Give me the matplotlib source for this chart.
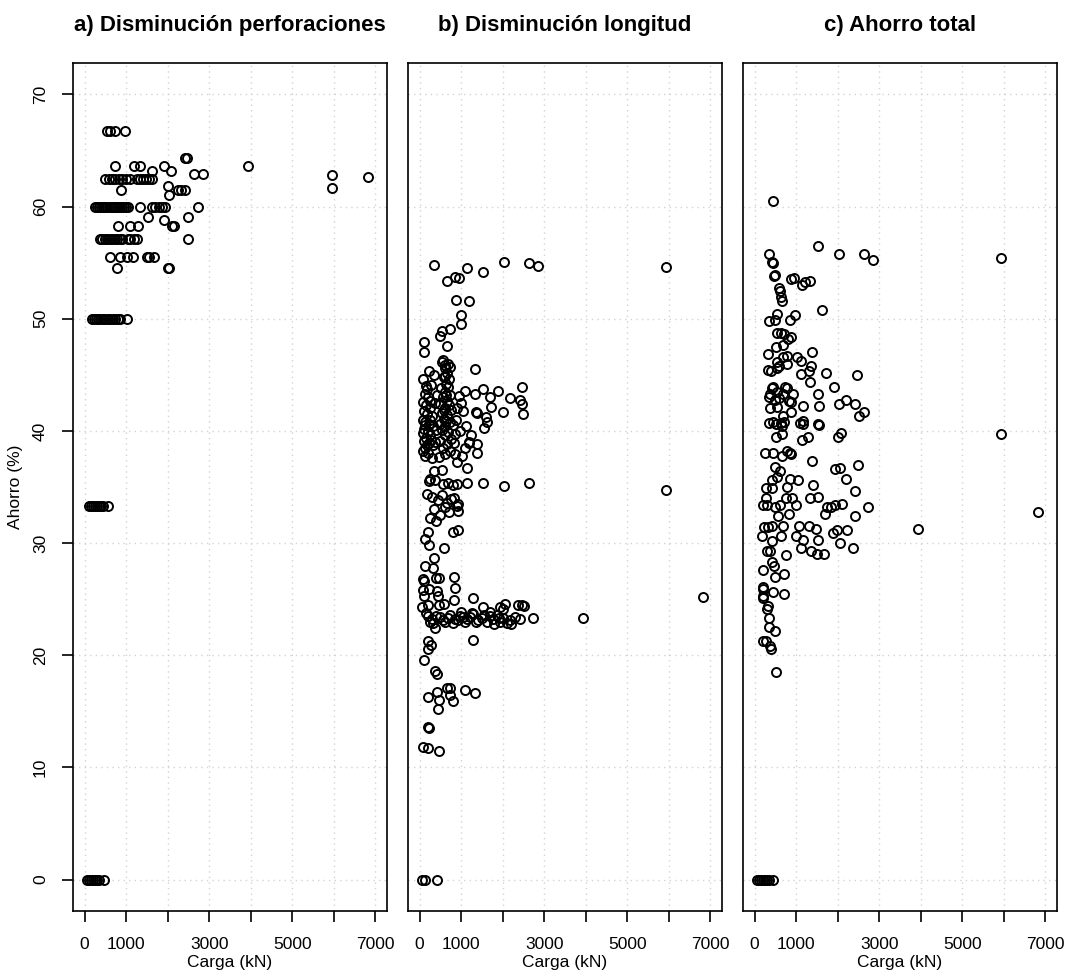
import matplotlib
matplotlib.use('Agg')
import matplotlib.pyplot as plt

plt.rcParams['font.family'] = ['Liberation Sans', 'DejaVu Sans']

# Panel titles and axis text
titulos = ['a) Disminución perforaciones', 'b) Disminución longitud', 'c) Ahorro total']
etiqueta_x = 'Carga (kN)'
etiqueta_y = 'Ahorro (%)'
ticks_x = [0, 1000, 2000, 3000, 4000, 5000, 6000, 7000]
etiquetas_ticks_x = ['0', '1000', '', '3000', '', '5000', '', '7000']
ticks_y = [0, 10, 20, 30, 40, 50, 60, 70]

# a) reduction in number of boreholes: (load kN, saving %)
puntos_a = [
    (50, 0), (100, 0), (150, 0), (200, 0), (250, 0), (300, 0), (350, 0), (470, 0),
    (100, 33.3), (150, 33.3), (200, 33.3), (250, 33.3), (300, 33.3), (350, 33.3), (400, 33.3), (450, 33.3), (560, 33.3),
    (170, 50), (220, 50), (280, 50), (330, 50), (380, 50), (440, 50), (500, 50), (560, 50), (620, 50),
    (680, 50), (740, 50), (800, 50), (860, 50), (1030, 50),
    (790, 54.5), (2000, 54.5), (2030, 54.5),
    (612, 55.5), (853, 55.5), (1013, 55.5), (1173, 55.5), (1500, 55.5), (1560, 55.5), (1680, 55.5),
    (370, 57.1), (420, 57.1), (480, 57.1), (540, 57.1), (600, 57.1), (660, 57.1), (720, 57.1), (780, 57.1),
    (840, 57.1), (900, 57.1), (1050, 57.1), (1100, 57.1), (1180, 57.1), (1250, 57.1), (2500, 57.1),
    (812, 58.3), (1094, 58.3), (1294, 58.3), (2096, 58.3), (2150, 58.3), (1920, 58.8),
    (1535, 59.1), (2498, 59.1),
    (250, 60), (300, 60), (350, 60), (400, 60), (450, 60), (500, 60), (550, 60), (600, 60), (650, 60),
    (700, 60), (750, 60), (800, 60), (850, 60), (900, 60), (950, 60), (1000, 60), (1050, 60), (1330, 60),
    (1620, 60), (1700, 60), (1780, 60), (1860, 60), (1930, 60), (2720, 60),
    (2040, 61.0), (877, 61.5), (2250, 61.5), (2330, 61.5), (2418, 61.5), (2016, 61.8), (5950, 61.7),
    (500, 62.5), (580, 62.5), (660, 62.5), (740, 62.5), (820, 62.5), (900, 62.5), (1000, 62.5), (1100, 62.5),
    (1260, 62.5), (1330, 62.5), (1400, 62.5), (1470, 62.5), (1540, 62.5), (1610, 62.5), (6830, 62.6),
    (2634, 62.9), (2858, 62.9), (5950, 62.8), (1615, 63.2), (2073, 63.2),
    (730, 63.6), (1190, 63.6), (1334, 63.6), (1912, 63.6), (3930, 63.6),
    (2420, 64.3), (2460, 64.3),
    (530, 66.7), (600, 66.7), (730, 66.7), (970, 66.7),
]

# b) reduction in borehole length
puntos_b = [
    (50, 0), (130, 0), (410, 0),
    (90, 11.8), (210, 11.7), (474, 11.5), (210, 13.6), (230, 13.5),
    (450, 15.2), (796, 15.9), (474, 16.0), (210, 16.3), (732, 16.5), (411, 16.7), (1334, 16.65),
    (1093, 16.9), (652, 17.1), (732, 17.1), (371, 18.6), (426, 18.35), (106, 19.6),
    (210, 20.6), (267, 20.9), (210, 21.3), (1293, 21.4), (371, 22.4),
    (210, 23.5), (291, 23.2), (331, 22.9), (491, 23.4), (612, 23.0), (732, 23.6), (852, 23.2), (973, 23.5),
    (1093, 23.0), (1213, 23.4), (1294, 23.7), (1414, 23.1), (1494, 23.3), (1615, 23.0), (1695, 23.5),
    (1775, 23.2), (1856, 23.6), (1936, 23.0), (2016, 23.3), (2096, 22.9), (2177, 23.1), (2297, 23.4),
    (2418, 23.2), (1000, 23.9), (1250, 23.8), (1700, 23.9), (2000, 24.1), (150, 23.8), (400, 23.5),
    (560, 23.1), (1800, 22.8), (2200, 22.8), (1150, 23.2), (1350, 23.0), (1550, 23.6), (1900, 23.3),
    (2723, 23.3), (3927, 23.3), (260, 23.0), (680, 23.3), (800, 22.9), (930, 23.1), (1050, 23.4),
    (50, 24.3), (210, 24.5), (474, 24.5), (587, 24.6), (1534, 24.3), (1936, 24.3), (2056, 24.6),
    (2377, 24.5), (2457, 24.5), (2514, 24.4), (836, 24.9), (1278, 25.1), (6831, 25.2),
    (106, 25.3), (440, 25.3), (74, 25.8), (234, 25.9), (426, 25.7), (852, 26.0),
    (90, 26.8), (106, 26.6), (395, 26.9), (474, 26.9), (836, 27.0),
    (130, 28.0), (322, 27.8), (347, 28.7), (595, 29.6), (226, 29.8), (130, 30.4), (210, 31.0),
    (812, 31.0), (932, 31.2), (250, 32.2), (400, 32.0),
    (180, 34.4), (300, 34.1), (450, 33.8), (550, 34.3), (650, 33.6), (750, 33.9), (600, 33.2), (700, 32.8),
    (500, 32.5), (350, 33.0), (820, 34.0), (900, 33.3), (932, 33.5), (932, 32.9),
    (226, 35.5), (371, 35.6), (563, 35.3), (684, 35.4), (804, 35.2), (900, 35.3), (1141, 35.4),
    (1526, 35.4), (2032, 35.1), (2634, 35.4), (5925, 34.7), (250, 35.7),
    (532, 36.5), (347, 36.4), (908, 37.2), (1134, 36.7), (130, 37.8),
    (90, 44.6), (150, 44.0), (120, 43.3), (200, 43.0), (90, 42.6), (160, 42.3), (250, 42.0), (100, 41.8),
    (180, 41.5), (300, 41.3), (90, 41.0), (140, 40.8), (220, 40.6), (330, 40.4), (110, 40.2), (190, 40.0),
    (80, 39.8), (260, 39.6), (150, 39.4), (100, 39.1), (220, 38.9), (320, 38.7), (130, 38.5), (90, 38.2),
    (200, 38.0), (300, 37.6), (260, 41.0), (360, 42.5), (380, 39.0), (400, 40.1), (420, 43.2),
    (280, 44.1), (350, 45.0), (170, 43.7), (240, 42.7), (120, 40.5), (280, 39.2), (170, 38.7),
    (560, 46.3), (600, 45.6), (650, 45.2), (580, 44.8), (700, 44.6), (630, 44.2), (520, 43.8), (680, 43.9),
    (600, 43.5), (740, 43.2), (560, 43.0), (650, 42.7), (500, 42.4), (700, 42.3), (600, 42.0), (760, 41.9),
    (540, 41.6), (660, 41.4), (580, 41.1), (720, 40.8), (480, 40.6), (620, 40.4), (540, 40.1), (690, 39.9),
    (600, 39.6), (760, 39.3), (500, 39.1), (650, 38.8), (560, 38.5), (720, 38.2), (620, 37.9), (460, 37.7),
    (800, 40.5), (820, 38.9), (850, 39.7), (880, 41.0), (860, 37.9), (610, 44.9), (640, 43.2), (590, 41.9),
    (630, 40.9),
    (1093, 43.6), (950, 43.1), (1000, 42.5), (1050, 41.8), (900, 42.0), (1120, 40.4), (960, 40.0),
    (1180, 39.0), (1100, 38.5), (1020, 37.8),
    (1534, 43.7), (1895, 43.6), (2473, 43.9), (2177, 42.9), (2418, 42.8), (2458, 42.4), (2497, 41.5),
    (2000, 41.7), (1695, 43.0), (1712, 42.1), (1358, 41.7), (1380, 41.6), (1334, 43.3), (1599, 41.2),
    (1630, 40.8), (1551, 40.3), (1375, 38.8), (1375, 38.0), (1237, 39.6), (1180, 38.9),
    (540, 46.1), (620, 45.9), (690, 46.0), (732, 45.7), (226, 45.3), (1334, 45.5),
    (106, 47.9), (106, 47.0), (652, 47.6), (491, 48.5), (532, 48.9), (732, 49.1), (997, 49.5), (997, 50.3),
    (876, 51.7), (1197, 51.6),
    (347, 54.8), (652, 53.4), (852, 53.7), (956, 53.6), (1149, 54.5), (1519, 54.2), (2032, 55.1),
    (2642, 55.0), (2859, 54.7), (5925, 54.6),
]

# c) total saving
puntos_c = [
    (50, 0), (100, 0), (150, 0), (200, 0), (250, 0), (300, 0), (350, 0), (450, 0),
    (508, 18.5), (371, 20.8), (395, 20.6), (210, 21.3), (267, 21.3), (355, 22.5), (491, 22.2), (355, 23.3),
    (315, 24.4), (291, 24.1), (210, 25.3), (210, 25.1), (451, 25.6), (716, 25.5), (194, 26.1), (194, 25.9),
    (491, 27.0), (716, 27.2), (210, 27.6), (427, 28.3), (475, 28.0),
    (290, 29.3), (371, 29.3), (756, 28.9), (1109, 29.6), (1351, 29.3), (1511, 29.0), (1671, 29.0),
    (178, 30.6), (411, 30.2), (636, 30.6), (997, 30.6), (1173, 30.3), (1519, 30.3), (2056, 30.0), (2362, 29.6),
    (234, 31.4), (315, 31.4), (411, 31.5), (692, 31.5), (1070, 31.5), (1304, 31.5), (1488, 31.3),
    (1887, 30.9), (1984, 31.2), (2225, 31.2), (3927, 31.3),
    (210, 33.4), (290, 33.4), (491, 33.2), (612, 33.4), (997, 33.4), (1695, 32.6), (1751, 33.2),
    (1831, 33.2), (1936, 33.4), (2113, 33.5), (2723, 33.2), (2417, 32.4), (836, 32.6), (571, 32.4),
    (6831, 32.8),
    (275, 34.0), (756, 34.0), (893, 34.0), (1334, 34.0), (1535, 34.1),
    (275, 34.9), (411, 34.9), (780, 35.0), (1414, 35.2), (2417, 34.6),
    (531, 35.9), (411, 35.6), (852, 35.7), (1040, 35.6), (2210, 35.7),
    (491, 36.8), (612, 36.4), (1375, 37.3), (1936, 36.6), (2056, 36.7), (2498, 37.0),
    (250, 38.0), (435, 38.0), (652, 37.8), (773, 38.2), (852, 38.0), (870, 37.9),
    (5933, 39.7), (2016, 39.5), (2073, 39.8), (515, 39.5), (652, 39.7), (1149, 39.2), (1290, 39.5),
    (339, 40.7), (435, 40.8), (515, 40.6), (628, 40.7), (652, 40.4), (708, 40.8), (1093, 40.7),
    (1158, 40.9), (1173, 40.6), (1527, 40.6), (1550, 40.5),
    (2642, 41.7), (2513, 41.3), (371, 42.0), (531, 42.1), (692, 41.3), (877, 41.7), (1173, 42.2), (1551, 42.2),
    (355, 43.0), (491, 42.8), (595, 42.9), (836, 42.7), (877, 42.6), (2194, 42.8), (2417, 42.4), (2032, 42.4),
    (371, 43.3), (531, 43.5), (691, 43.3), (932, 43.3), (1519, 43.3),
    (451, 43.9), (411, 43.8), (732, 43.9), (773, 43.8), (1334, 44.4), (1912, 43.9),
    (330, 45.4), (395, 45.3), (547, 45.6), (595, 45.8), (1110, 45.1), (1712, 45.2), (2473, 45.0),
    (1351, 45.8), (1317, 45.3),
    (691, 46.6), (773, 46.7), (1014, 46.6), (1117, 46.2), (773, 46.0), (531, 46.1), (330, 46.9), (1375, 47.0),
    (515, 47.5), (691, 47.7), (531, 48.7), (628, 48.7), (708, 48.6), (812, 48.2), (877, 48.4),
    (547, 50.4), (355, 49.8), (491, 49.9), (852, 49.9), (973, 50.3), (1615, 50.8),
    (636, 51.9), (667, 51.6), (595, 52.7), (612, 52.5),
    (1149, 53.0), (1213, 53.3), (1334, 53.4), (869, 53.5), (949, 53.6), (475, 53.8), (490, 53.9),
    (427, 55.1), (440, 55.0), (2858, 55.2), (5933, 55.4), (355, 55.8), (2032, 55.8), (2634, 55.8),
    (1519, 56.5), (443, 60.5),
]

paneles = [puntos_a, puntos_b, puntos_c]

fig = plt.figure(figsize=(10.71, 9.8), dpi=100)
W, H = 1071, 980
izquierdas = [73, 408, 743]
ancho, arriba, abajo = 314, 63, 911

for i, (puntos, titulo) in enumerate(zip(paneles, titulos)):
    ax = fig.add_axes([izquierdas[i] / W, 1 - abajo / H, ancho / W, (abajo - arriba) / H])
    carga = [p[0] for p in puntos]
    ahorro = [p[1] for p in puntos]
    ax.set_xlim(-280, 7280)
    ax.set_ylim(-2.8, 72.8)
    for gx in ticks_x:
        ax.axvline(gx, color='lightgray', lw=1.0, ls=(0, (1, 3)), zorder=0)
    for gy in ticks_y:
        ax.axhline(gy, color='lightgray', lw=1.0, ls=(0, (1, 3)), zorder=0)
    ax.plot(carga, ahorro, 'o', mfc='none', mec='black', ms=6.5, mew=1.4, zorder=3)
    for s in ax.spines.values():
        s.set_linewidth(1.2)
    ax.set_xticks(ticks_x)
    ax.set_xticklabels(etiquetas_ticks_x, fontsize=12.5)
    ax.tick_params(axis='x', length=8, width=1.2, pad=11)
    ax.set_xlabel(etiqueta_x, fontsize=12.5, labelpad=2)
    if i == 0:
        ax.set_yticks(ticks_y)
        ax.set_yticklabels([str(v) for v in ticks_y], fontsize=12.5, rotation=90, va='center')
        ax.tick_params(axis='y', length=8, width=1.2, pad=10)
        ax.set_ylabel(etiqueta_y, fontsize=12.5, labelpad=7)
    else:
        ax.set_yticks([])
    ax.text(0.5, 1 + (arriba - 26) / (abajo - arriba), titulo, transform=ax.transAxes,
            ha='center', va='center', fontsize=16, fontweight='bold')

plt.savefig('out.png', dpi=100)
